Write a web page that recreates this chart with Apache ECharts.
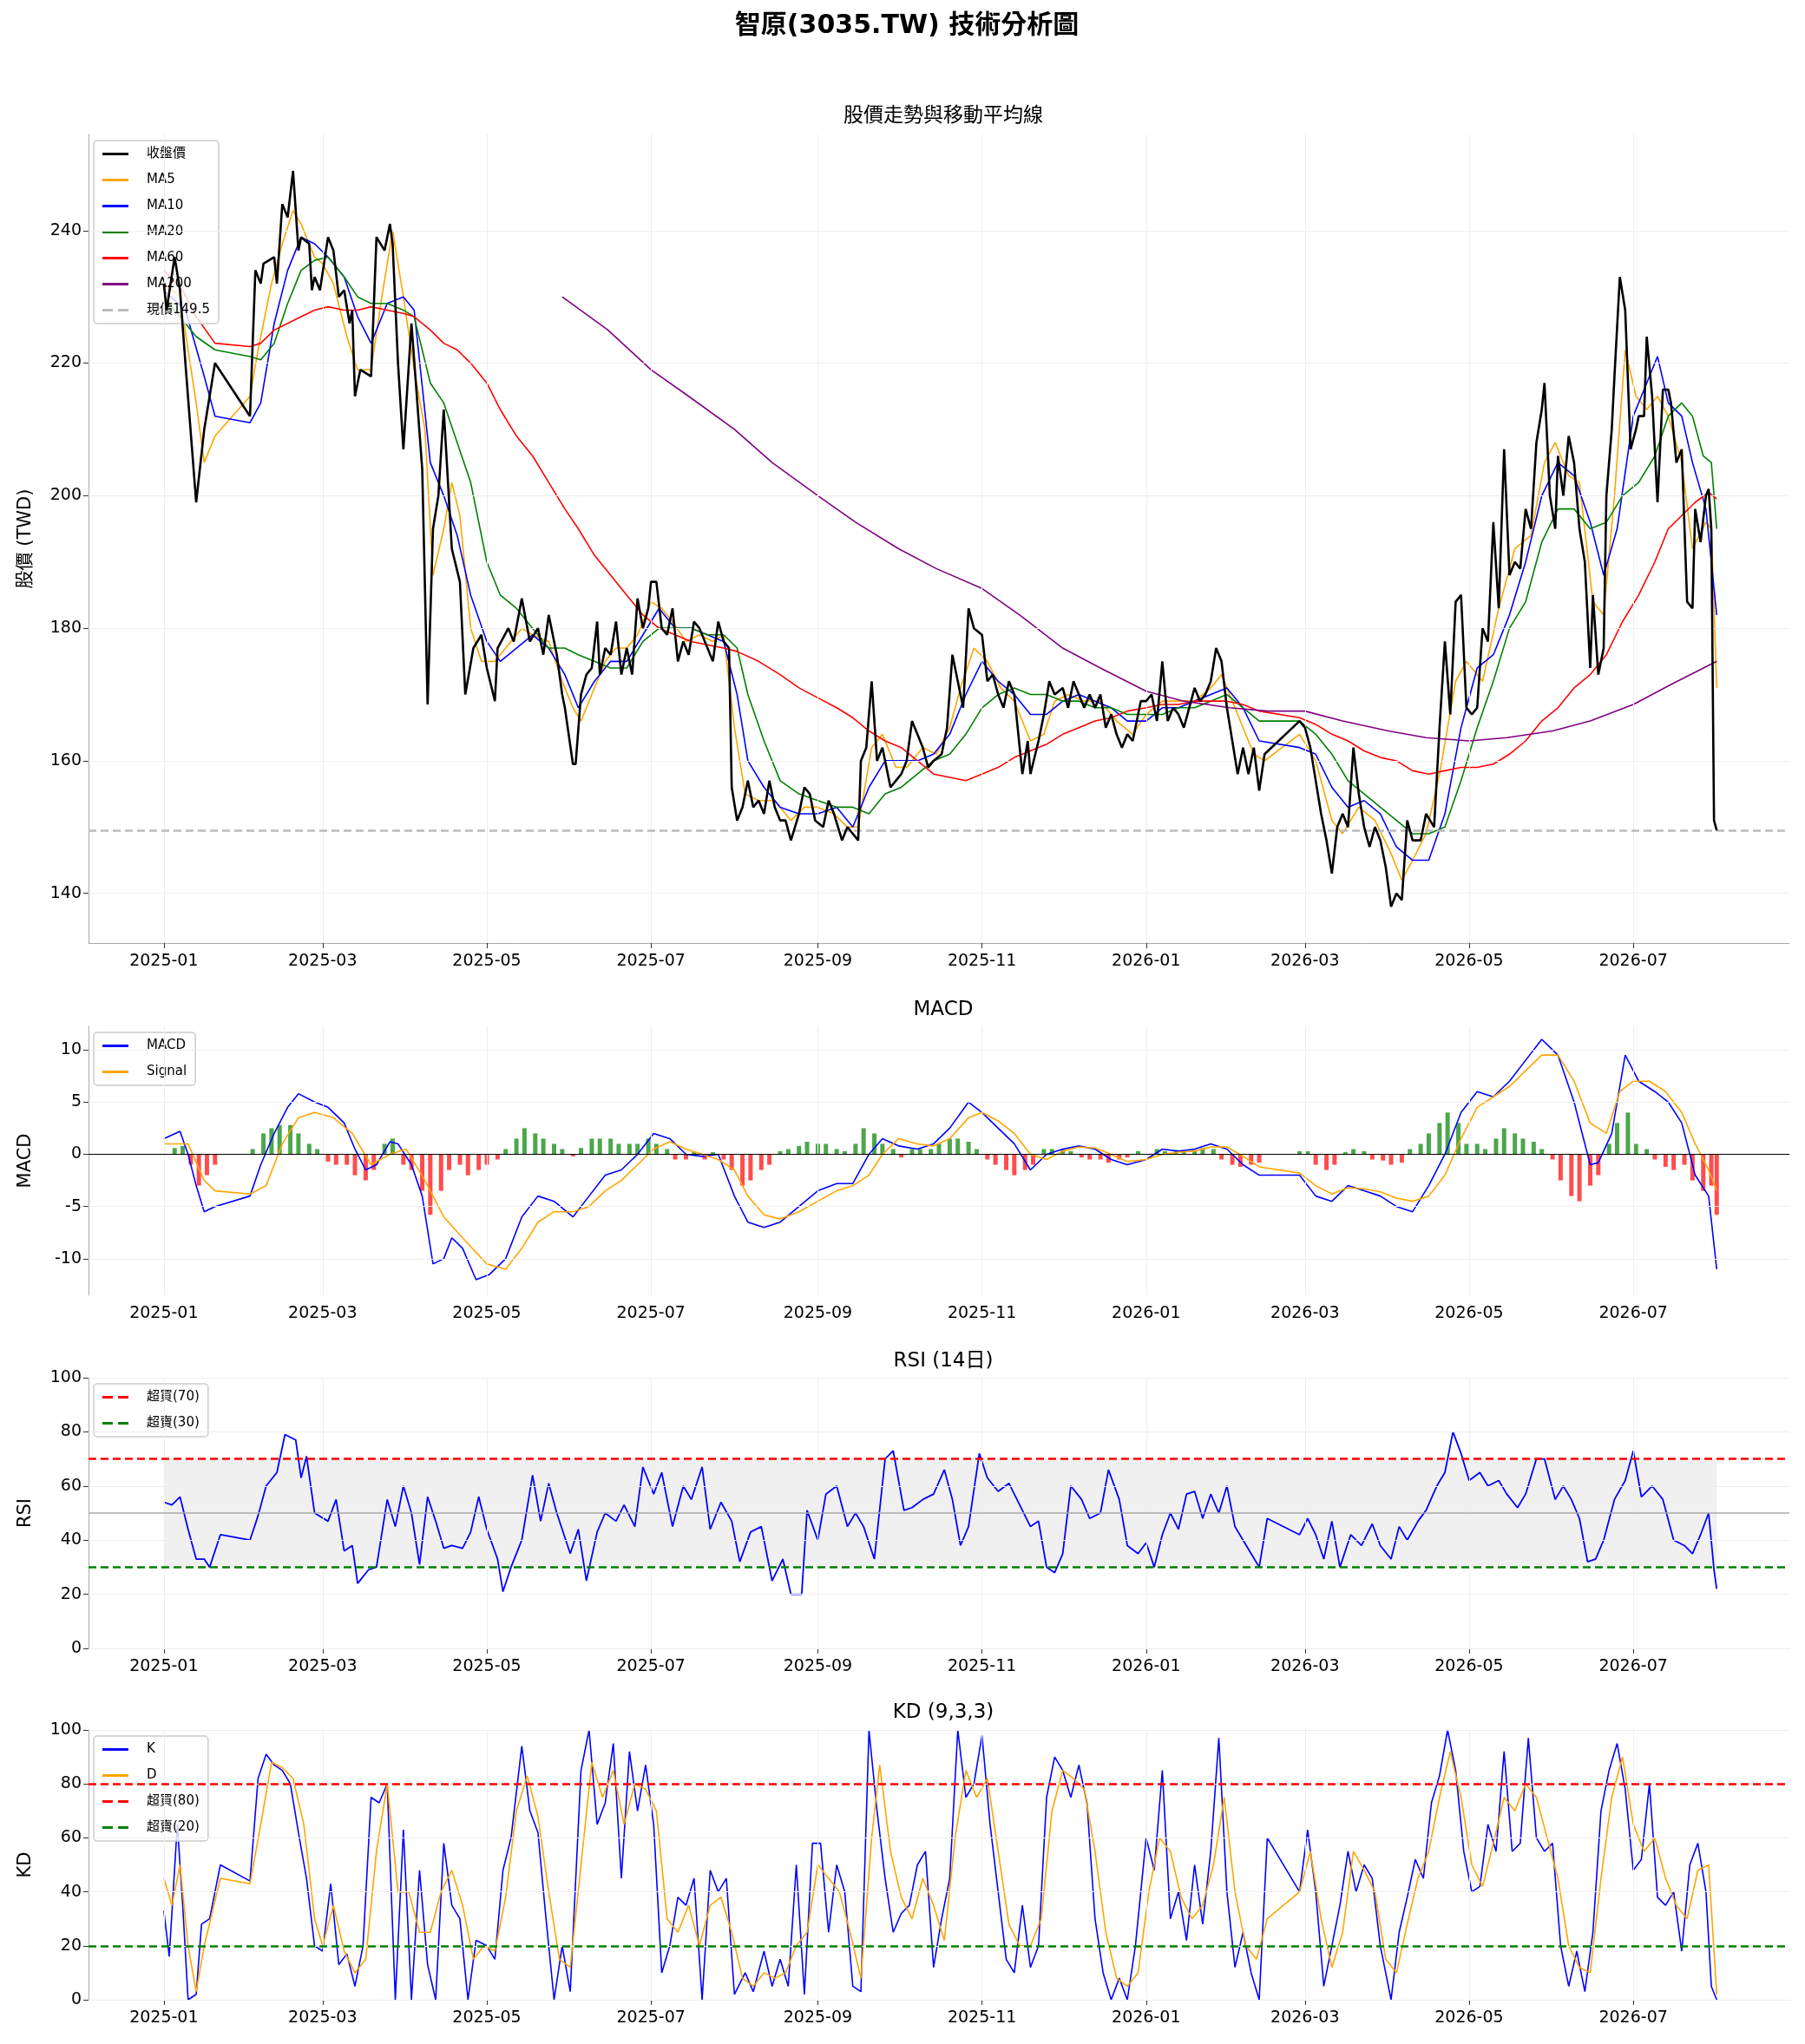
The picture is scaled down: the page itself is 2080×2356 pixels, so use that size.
<!DOCTYPE html>
<html>
<head>
<meta charset="utf-8">
<script src="https://cdn.jsdelivr.net/npm/echarts@6/dist/echarts.min.js"></script>
<style>
html,body{margin:0;padding:0;background:#fff}
#chart{width:2080px;height:2356px}
</style>
</head>
<body>
<div id="chart"></div>
<script>
// tick labels
const monthTicks = ['2025-01-01','2025-03-01','2025-05-01','2025-07-01','2025-09-01','2025-11-01',
  '2026-01-01','2026-03-01','2026-05-01','2026-07-01'];
const priceTicks = [140, 160, 180, 200, 220, 240];
const macdTicks = [-10, -5, 0, 5, 10];
const pctTicks = [0, 20, 40, 60, 80, 100];
const lastPrice = 149.5;

// close price
const closePx = [
['2025-01-01',232],['2025-01-02',228],['2025-01-05',236],['2025-01-07',231],['2025-01-09',220],['2025-01-13',199],
['2025-01-16',210],['2025-01-20',220],['2025-02-02',212],['2025-02-04',234],['2025-02-06',232],['2025-02-07',235],
['2025-02-11',236],['2025-02-12',232],['2025-02-14',244],['2025-02-16',242],['2025-02-18',249],['2025-02-20',237],
['2025-02-21',239],['2025-02-24',238],['2025-02-25',231],['2025-02-26',233],['2025-02-28',231],['2025-03-03',239],
['2025-03-05',237],['2025-03-07',230],['2025-03-09',231],['2025-03-11',226],['2025-03-12',228],['2025-03-13',215],
['2025-03-15',219],['2025-03-19',218],['2025-03-21',239],['2025-03-24',237],['2025-03-26',241],['2025-03-27',238],
['2025-03-29',220],['2025-03-31',207],['2025-04-03',226],['2025-04-07',204],['2025-04-09',168.5],['2025-04-11',195],
['2025-04-13',200],['2025-04-15',213],['2025-04-18',192],['2025-04-21',187],['2025-04-23',170],['2025-04-26',177],
['2025-04-29',179],['2025-05-01',174],['2025-05-04',169],['2025-05-05',177],['2025-05-09',180],['2025-05-11',178],
['2025-05-14',184.5],['2025-05-17',178],['2025-05-20',180],['2025-05-22',176],['2025-05-24',182],['2025-05-27',176],
['2025-05-29',170],['2025-05-30',168],['2025-06-02',159.5],['2025-06-03',159.5],['2025-06-05',170],['2025-06-07',173],
['2025-06-09',174],['2025-06-11',181],['2025-06-12',173],['2025-06-14',177],['2025-06-16',176],['2025-06-18',181],
['2025-06-20',173],['2025-06-22',177],['2025-06-24',173],['2025-06-26',184.5],['2025-06-28',180],['2025-06-30',183],
['2025-07-01',187],['2025-07-03',187],['2025-07-05',180],['2025-07-07',179],['2025-07-09',183],['2025-07-11',175],
['2025-07-13',178],['2025-07-15',176],['2025-07-17',181],['2025-07-19',180],['2025-07-22',177],['2025-07-24',175],
['2025-07-26',181],['2025-07-28',178],['2025-07-30',177],['2025-07-31',156],['2025-08-02',151],['2025-08-04',153],
['2025-08-06',157],['2025-08-08',153],['2025-08-10',154],['2025-08-12',152],['2025-08-14',157],['2025-08-16',153],
['2025-08-18',151],['2025-08-20',151],['2025-08-22',148],['2025-08-25',152],['2025-08-27',156],['2025-08-29',155],
['2025-08-31',151],['2025-09-03',150],['2025-09-05',154],['2025-09-07',152],['2025-09-10',148],['2025-09-12',150],
['2025-09-14',149],['2025-09-16',148],['2025-09-17',160],['2025-09-19',162],['2025-09-21',172],['2025-09-23',160],
['2025-09-25',162],['2025-09-28',156],['2025-09-30',157],['2025-10-02',158],['2025-10-04',160],['2025-10-06',166],
['2025-10-08',164],['2025-10-10',162],['2025-10-12',159],['2025-10-14',160],['2025-10-17',161],['2025-10-19',165],
['2025-10-21',176],['2025-10-23',172],['2025-10-25',168],['2025-10-27',183],['2025-10-29',180],['2025-11-01',179],
['2025-11-03',172],['2025-11-05',173],['2025-11-07',170],['2025-11-09',168],['2025-11-11',172],['2025-11-13',170],
['2025-11-16',158],['2025-11-18',163],['2025-11-19',158],['2025-11-22',163],['2025-11-24',167],['2025-11-26',172],
['2025-11-28',170],['2025-12-01',171],['2025-12-03',168],['2025-12-05',172],['2025-12-07',170],['2025-12-09',168],
['2025-12-11',170],['2025-12-13',168],['2025-12-15',170],['2025-12-17',165],['2025-12-19',167],['2025-12-21',164],
['2025-12-23',162],['2025-12-25',164],['2025-12-27',163],['2025-12-30',169],['2026-01-01',169],['2026-01-03',170],
['2026-01-05',166],['2026-01-07',175],['2026-01-09',166],['2026-01-11',168],['2026-01-13',167],['2026-01-15',165],
['2026-01-17',168],['2026-01-19',171],['2026-01-21',169],['2026-01-23',170],['2026-01-25',172],['2026-01-27',177],
['2026-01-29',175],['2026-01-31',168],['2026-02-02',163],['2026-02-04',158],['2026-02-06',162],['2026-02-08',158],
['2026-02-10',162],['2026-02-12',155.5],['2026-02-14',161],['2026-02-27',166],['2026-03-01',165],['2026-03-03',162],
['2026-03-05',157],['2026-03-07',152],['2026-03-09',148],['2026-03-11',143],['2026-03-13',150],['2026-03-15',152],
['2026-03-17',150],['2026-03-19',162],['2026-03-21',155],['2026-03-23',150],['2026-03-25',147],['2026-03-27',150],
['2026-03-29',148],['2026-03-31',144],['2026-04-02',138],['2026-04-04',140],['2026-04-06',139],['2026-04-08',151],
['2026-04-10',148],['2026-04-13',148],['2026-04-15',152],['2026-04-18',150],['2026-04-20',165],['2026-04-22',178],
['2026-04-24',167],['2026-04-26',184],['2026-04-28',185],['2026-04-30',168],['2026-05-02',167],['2026-05-04',168],
['2026-05-06',180],['2026-05-08',178],['2026-05-10',196],['2026-05-12',183],['2026-05-14',207],['2026-05-16',188],
['2026-05-18',190],['2026-05-20',189],['2026-05-22',198],['2026-05-24',195],['2026-05-26',208],['2026-05-28',213],
['2026-05-29',217],['2026-05-31',200],['2026-06-02',195],['2026-06-03',206],['2026-06-05',200],['2026-06-07',209],
['2026-06-09',205],['2026-06-11',195],['2026-06-13',190],['2026-06-15',174],['2026-06-16',185],['2026-06-18',173],
['2026-06-20',177],['2026-06-21',200],['2026-06-23',210],['2026-06-24',218],['2026-06-26',233],['2026-06-28',228],
['2026-06-30',207],['2026-07-02',210],['2026-07-03',212],['2026-07-05',212],['2026-07-06',224],['2026-07-08',215],
['2026-07-10',199],['2026-07-12',216],['2026-07-14',216],['2026-07-15',214],['2026-07-17',205],['2026-07-19',207],
['2026-07-21',184],['2026-07-23',183],['2026-07-24',198],['2026-07-26',193],['2026-07-28',200],['2026-07-29',201],
['2026-07-30',195],['2026-07-31',151],['2026-08-01',149.5]];

const ma5 = [
['2025-01-01',232],['2025-01-07',230],['2025-01-13',214],['2025-01-16',205],['2025-01-20',209],['2025-02-02',215],
['2025-02-05',222],['2025-02-10',232],['2025-02-14',238],['2025-02-18',243],['2025-02-21',241],['2025-02-26',236],
['2025-03-01',235],['2025-03-05',232],['2025-03-10',224],['2025-03-14',219],['2025-03-19',219],['2025-03-23',230],
['2025-03-27',240],['2025-03-31',230],['2025-04-04',219],['2025-04-08',210],['2025-04-11',188],['2025-04-15',195],
['2025-04-18',202],['2025-04-21',197],['2025-04-25',180],['2025-04-29',175],['2025-05-04',175],['2025-05-08',177],
['2025-05-14',180],['2025-05-18',179],['2025-05-24',178],['2025-05-29',172],['2025-06-02',168],['2025-06-05',166],
['2025-06-09',170],['2025-06-14',175],['2025-06-18',177],['2025-06-22',177],['2025-06-26',179],['2025-07-01',184],
['2025-07-05',183],['2025-07-09',181],['2025-07-14',178],['2025-07-19',179],['2025-07-24',178],['2025-07-28',179],
['2025-08-01',165],['2025-08-05',155],['2025-08-10',154],['2025-08-16',154],['2025-08-22',151],['2025-08-27',153],
['2025-09-01',153],['2025-09-07',152],['2025-09-12',150],['2025-09-16',150],['2025-09-21',162],['2025-09-25',164],
['2025-09-30',159],['2025-10-04',159],['2025-10-10',162],['2025-10-15',161],['2025-10-20',165],['2025-10-24',171],
['2025-10-29',177],['2025-11-03',175],['2025-11-08',171],['2025-11-13',169],['2025-11-19',163],['2025-11-24',164],
['2025-11-28',169],['2025-12-03',170],['2025-12-09',169],['2025-12-15',169],['2025-12-21',166],['2025-12-27',164],
['2026-01-01',167],['2026-01-07',169],['2026-01-13',169],['2026-01-19',169],['2026-01-25',171],['2026-01-29',173],
['2026-02-04',167],['2026-02-10',161],['2026-02-14',160],['2026-02-27',164],['2026-03-05',160],['2026-03-11',151],
['2026-03-15',149],['2026-03-21',153],['2026-03-27',151],['2026-04-02',146],['2026-04-06',142],['2026-04-10',145],
['2026-04-15',149],['2026-04-20',158],['2026-04-26',172],['2026-04-30',175],['2026-05-06',172],['2026-05-12',183],
['2026-05-18',192],['2026-05-24',194],['2026-05-29',205],['2026-06-02',208],['2026-06-07',203],['2026-06-11',202],
['2026-06-16',184],['2026-06-20',182],['2026-06-24',200],['2026-06-28',222],['2026-07-02',215],['2026-07-06',213],
['2026-07-10',215],['2026-07-14',212],['2026-07-19',205],['2026-07-23',192],['2026-07-28',196],['2026-07-30',195],
['2026-08-01',171]];

const ma10 = [
['2025-01-01',231],['2025-01-09',228],['2025-01-16',218],['2025-01-20',212],['2025-02-02',211],['2025-02-06',214],
['2025-02-11',226],['2025-02-16',234],['2025-02-21',239],['2025-02-26',238],['2025-03-03',236],['2025-03-09',233],
['2025-03-14',227],['2025-03-19',223],['2025-03-25',229],['2025-03-31',230],['2025-04-04',228],['2025-04-10',205],
['2025-04-15',200],['2025-04-20',194],['2025-04-25',185],['2025-05-01',178],['2025-05-06',175],['2025-05-12',177],
['2025-05-18',179],['2025-05-24',177],['2025-05-30',173],['2025-06-04',168],['2025-06-10',172],['2025-06-16',175],
['2025-06-22',175],['2025-06-28',179],['2025-07-04',183],['2025-07-10',180],['2025-07-16',180],['2025-07-22',179],
['2025-07-28',178],['2025-08-02',170],['2025-08-06',160],['2025-08-12',156],['2025-08-18',153],['2025-08-25',152],
['2025-09-01',152],['2025-09-08',153],['2025-09-14',150],['2025-09-20',156],['2025-09-26',160],['2025-10-02',160],
['2025-10-08',160],['2025-10-14',161],['2025-10-20',164],['2025-10-26',170],['2025-11-01',175],['2025-11-07',172],
['2025-11-13',170],['2025-11-19',167],['2025-11-25',167],['2025-12-01',169],['2025-12-07',170],['2025-12-13',169],
['2025-12-19',168],['2025-12-25',166],['2026-01-01',166],['2026-01-07',168],['2026-01-13',168],['2026-01-19',169],
['2026-01-25',170],['2026-01-31',171],['2026-02-06',168],['2026-02-12',163],['2026-02-27',162],['2026-03-05',161],
['2026-03-11',156],['2026-03-17',153],['2026-03-23',154],['2026-03-29',152],['2026-04-04',147],['2026-04-10',145],
['2026-04-16',145],['2026-04-22',152],['2026-04-28',165],['2026-05-04',174],['2026-05-10',176],['2026-05-16',182],
['2026-05-22',190],['2026-05-28',200],['2026-06-03',205],['2026-06-09',203],['2026-06-15',196],['2026-06-20',188],
['2026-06-25',195],['2026-07-01',212],['2026-07-06',217],['2026-07-10',221],['2026-07-14',214],['2026-07-19',212],
['2026-07-23',205],['2026-07-28',198],['2026-08-01',182]];

const ma20 = [
['2025-01-01',230],['2025-01-13',224],['2025-01-20',222],['2025-02-02',221],['2025-02-06',220.5],['2025-02-11',223],
['2025-02-16',229],['2025-02-21',234],['2025-02-26',235.5],['2025-03-03',236],['2025-03-09',233],['2025-03-14',230],
['2025-03-19',229],['2025-03-25',229],['2025-03-31',228],['2025-04-04',227],['2025-04-10',217],['2025-04-15',214],
['2025-04-20',208],['2025-04-25',202],['2025-05-01',190],['2025-05-06',185],['2025-05-12',183],['2025-05-18',180],
['2025-05-24',177],['2025-05-30',177],['2025-06-04',176],['2025-06-10',175],['2025-06-16',174],['2025-06-22',174],
['2025-06-28',178],['2025-07-04',180],['2025-07-10',180],['2025-07-16',180],['2025-07-22',179],['2025-07-28',179],
['2025-08-02',177],['2025-08-06',170],['2025-08-12',163],['2025-08-18',157],['2025-08-25',155],['2025-09-01',154],
['2025-09-08',153],['2025-09-14',153],['2025-09-20',152],['2025-09-26',155],['2025-10-02',156],['2025-10-08',158],
['2025-10-14',160],['2025-10-20',161],['2025-10-26',164],['2025-11-01',168],['2025-11-07',170],['2025-11-13',171],
['2025-11-19',170],['2025-11-25',170],['2025-12-01',169],['2025-12-07',169],['2025-12-13',168],['2025-12-19',168],
['2025-12-25',167],['2026-01-01',167],['2026-01-07',167],['2026-01-13',168],['2026-01-19',168],['2026-01-25',169],
['2026-01-31',170],['2026-02-06',168],['2026-02-12',166],['2026-02-27',166],['2026-03-05',164],['2026-03-11',161],
['2026-03-17',157],['2026-03-23',155],['2026-03-29',153],['2026-04-04',151],['2026-04-10',149],['2026-04-16',149],
['2026-04-22',150],['2026-04-28',157],['2026-05-04',165],['2026-05-10',172],['2026-05-16',180],['2026-05-22',184],
['2026-05-28',193],['2026-06-03',198],['2026-06-09',198],['2026-06-15',195],['2026-06-21',196],['2026-06-27',200],
['2026-07-03',202],['2026-07-09',206],['2026-07-14',212],['2026-07-19',214],['2026-07-23',212],['2026-07-27',206],
['2026-07-30',205],['2026-08-01',195]];

const ma60 = [
['2025-01-01',234],['2025-01-08',231],['2025-01-13',227],['2025-01-20',223],['2025-02-02',222.5],['2025-02-06',223],
['2025-02-11',225],['2025-02-16',226],['2025-02-21',227],['2025-02-26',228],['2025-03-03',228.5],['2025-03-09',228],
['2025-03-14',228],['2025-03-19',228.5],['2025-03-25',228],['2025-03-31',227.5],['2025-04-04',227],['2025-04-10',225],
['2025-04-15',223],['2025-04-20',222],['2025-04-25',220],['2025-05-01',217],['2025-05-06',213],['2025-05-12',209],
['2025-05-18',206],['2025-05-24',202],['2025-05-30',198],['2025-06-04',195],['2025-06-10',191],['2025-06-16',188],
['2025-06-22',185],['2025-06-28',182],['2025-07-04',180],['2025-07-10',179],['2025-07-16',178],['2025-07-22',177.5],
['2025-07-28',177],['2025-08-02',176.5],['2025-08-10',175],['2025-08-18',173],['2025-08-25',171],['2025-09-01',169.5],
['2025-09-08',168],['2025-09-14',166.5],['2025-09-20',164.5],['2025-09-26',163],['2025-10-02',162],['2025-10-08',160],
['2025-10-14',158],['2025-10-20',157.5],['2025-10-26',157],['2025-11-01',158],['2025-11-07',159],['2025-11-13',160.5],
['2025-11-19',161.5],['2025-11-25',162.5],['2025-12-01',164],['2025-12-07',165],['2025-12-13',166],['2025-12-19',166.5],
['2025-12-25',167.5],['2026-01-01',168],['2026-01-07',168.5],['2026-01-13',168.5],['2026-01-19',169],['2026-01-25',169],
['2026-01-31',169],['2026-02-06',168.5],['2026-02-12',167.5],['2026-02-27',166.5],['2026-03-05',165.5],['2026-03-11',164],
['2026-03-17',163],['2026-03-23',161.5],['2026-03-29',160.5],['2026-04-04',160],['2026-04-10',158.5],['2026-04-16',158],
['2026-04-22',158.5],['2026-04-28',159],['2026-05-04',159],['2026-05-10',159.5],['2026-05-16',161],['2026-05-22',163],
['2026-05-28',166],['2026-06-03',168],['2026-06-09',171],['2026-06-15',173],['2026-06-21',176],['2026-06-27',181],
['2026-07-03',185],['2026-07-09',190],['2026-07-14',195],['2026-07-19',197],['2026-07-24',199],['2026-07-29',200.5],
['2026-08-01',199.5]];

const ma200 = [
['2025-05-29',230],['2025-06-15',225],['2025-07-01',219],['2025-07-15',215],['2025-08-01',210],['2025-08-15',205],
['2025-09-01',200],['2025-09-15',196],['2025-10-01',192],['2025-10-15',189],['2025-11-01',186],['2025-11-15',182],
['2025-12-01',177],['2025-12-15',174],['2026-01-01',170.5],['2026-01-15',169],['2026-02-01',168],['2026-02-15',167.5],
['2026-03-01',167.5],['2026-03-15',166],['2026-04-01',164.5],['2026-04-15',163.5],['2026-05-01',163],['2026-05-15',163.5],
['2026-06-01',164.5],['2026-06-15',166],['2026-07-01',168.5],['2026-07-15',171.5],['2026-08-01',175]];

const macdLine = [
['2025-01-01',1.5],['2025-01-07',2.2],['2025-01-10',0],['2025-01-13',-3],['2025-01-16',-5.5],['2025-01-20',-5],
['2025-02-02',-4],['2025-02-06',-1],['2025-02-11',2],['2025-02-16',4.5],['2025-02-20',5.8],['2025-02-26',5],
['2025-03-03',4.5],['2025-03-09',3],['2025-03-13',0.5],['2025-03-17',-1.5],['2025-03-21',-1],['2025-03-26',1.2],
['2025-03-29',1],['2025-04-03',-1],['2025-04-07',-4],['2025-04-11',-10.5],['2025-04-15',-10],['2025-04-18',-8],
['2025-04-22',-9],['2025-04-27',-12],['2025-05-02',-11.5],['2025-05-08',-10],['2025-05-14',-6],['2025-05-20',-4],
['2025-05-26',-4.5],['2025-06-02',-6],['2025-06-08',-4],['2025-06-14',-2],['2025-06-20',-1.5],['2025-06-26',0],
['2025-07-02',2],['2025-07-08',1.5],['2025-07-14',0],['2025-07-20',-0.2],['2025-07-26',0],['2025-08-01',-4],
['2025-08-06',-6.5],['2025-08-12',-7],['2025-08-18',-6.5],['2025-08-25',-5],['2025-09-01',-3.5],['2025-09-08',-2.8],
['2025-09-14',-2.8],['2025-09-20',0],['2025-09-25',1.5],['2025-10-01',0.8],['2025-10-08',0.5],['2025-10-14',1],
['2025-10-20',2.5],['2025-10-27',5],['2025-11-01',4],['2025-11-07',2.5],['2025-11-13',1],['2025-11-19',-1.5],
['2025-11-25',0],['2025-12-01',0.5],['2025-12-07',0.8],['2025-12-13',0.5],['2025-12-19',-0.5],['2025-12-25',-1],
['2026-01-01',-0.5],['2026-01-07',0.5],['2026-01-13',0.3],['2026-01-19',0.5],['2026-01-25',1],['2026-01-31',0.5],
['2026-02-06',-1],['2026-02-12',-2],['2026-02-27',-2],['2026-03-05',-4],['2026-03-11',-4.5],['2026-03-17',-3],
['2026-03-23',-3.5],['2026-03-29',-4],['2026-04-04',-5],['2026-04-10',-5.5],['2026-04-16',-3],['2026-04-22',0],
['2026-04-28',4],['2026-05-04',6],['2026-05-10',5.5],['2026-05-16',7],['2026-05-22',9],['2026-05-28',11],
['2026-06-03',9.5],['2026-06-09',5],['2026-06-15',-1],['2026-06-18',-0.8],['2026-06-23',2],['2026-06-28',9.5],
['2026-07-03',7],['2026-07-09',6],['2026-07-14',5],['2026-07-19',3],['2026-07-24',-2],['2026-07-29',-4],
['2026-08-01',-11]];

const signalLine = [
['2025-01-01',1],['2025-01-10',1],['2025-01-16',-2.5],['2025-01-20',-3.5],['2025-02-02',-3.8],['2025-02-08',-3],
['2025-02-14',1],['2025-02-20',3.5],['2025-02-26',4],['2025-03-05',3.5],['2025-03-12',2],['2025-03-19',-1],
['2025-03-26',0],['2025-04-01',0.5],['2025-04-08',-2.5],['2025-04-15',-6],['2025-04-22',-8],['2025-05-01',-10.5],
['2025-05-08',-11],['2025-05-14',-9],['2025-05-20',-6.5],['2025-05-26',-5.5],['2025-06-02',-5.5],['2025-06-08',-5],
['2025-06-14',-3.5],['2025-06-20',-2.5],['2025-06-26',-1],['2025-07-02',0.5],['2025-07-08',1.2],['2025-07-14',0.5],
['2025-07-20',0],['2025-07-26',-0.5],['2025-08-01',-1.5],['2025-08-06',-4],['2025-08-12',-5.8],['2025-08-18',-6.2],
['2025-08-25',-5.5],['2025-09-01',-4.5],['2025-09-08',-3.5],['2025-09-14',-3],['2025-09-20',-2],['2025-09-25',0],
['2025-10-01',1.5],['2025-10-08',1],['2025-10-14',0.8],['2025-10-20',1.5],['2025-10-27',3.5],['2025-11-01',4],
['2025-11-07',3.2],['2025-11-13',2],['2025-11-19',0],['2025-11-25',-0.5],['2025-12-01',0.3],['2025-12-07',0.7],
['2025-12-13',0.6],['2025-12-19',0],['2025-12-25',-0.7],['2026-01-01',-0.5],['2026-01-07',0],['2026-01-13',0.2],
['2026-01-19',0.3],['2026-01-25',0.7],['2026-01-31',0.7],['2026-02-06',-0.2],['2026-02-12',-1.2],['2026-02-27',-1.8],
['2026-03-05',-3],['2026-03-11',-3.8],['2026-03-17',-3.2],['2026-03-23',-3.3],['2026-03-29',-3.6],['2026-04-04',-4.2],
['2026-04-10',-4.5],['2026-04-16',-4],['2026-04-22',-2],['2026-04-28',1.5],['2026-05-04',4.5],['2026-05-10',5.5],
['2026-05-16',6.5],['2026-05-22',8],['2026-05-28',9.5],['2026-06-03',9.5],['2026-06-09',7],['2026-06-15',3],
['2026-06-21',2],['2026-06-26',6],['2026-07-01',7],['2026-07-07',7],['2026-07-13',6],['2026-07-19',4],
['2026-07-24',1],['2026-07-29',-1.5],['2026-08-01',-3.5]];

const macdHist = [
['2025-01-05',0.6],['2025-01-08',0.8],['2025-01-11',-1],['2025-01-14',-3],['2025-01-17',-2],['2025-01-20',-1],
['2025-02-03',0.5],['2025-02-07',2],['2025-02-10',2.5],['2025-02-13',2.8],['2025-02-17',2.8],['2025-02-20',2],
['2025-02-24',1],['2025-02-27',0.5],['2025-03-03',-0.7],['2025-03-06',-1],['2025-03-10',-1],['2025-03-13',-2],
['2025-03-17',-2.5],['2025-03-20',-1.5],['2025-03-24',1],['2025-03-27',1.5],['2025-03-31',-1],['2025-04-03',-1.5],
['2025-04-07',-3.5],['2025-04-10',-5.8],['2025-04-14',-3.5],['2025-04-17',-1.5],['2025-04-21',-1],['2025-04-24',-2],
['2025-04-28',-1.5],['2025-05-01',-1],['2025-05-05',-0.5],['2025-05-08',0.5],['2025-05-12',1.5],['2025-05-15',2.5],
['2025-05-19',2],['2025-05-22',1.5],['2025-05-26',1],['2025-05-29',0.5],['2025-06-02',-0.2],['2025-06-05',0.6],
['2025-06-09',1.5],['2025-06-12',1.5],['2025-06-16',1.5],['2025-06-19',1],['2025-06-23',1],['2025-06-26',1],
['2025-06-30',1.5],['2025-07-03',1],['2025-07-07',0.5],['2025-07-10',-0.5],['2025-07-14',-0.5],['2025-07-17',0.2],
['2025-07-21',-0.5],['2025-07-24',0.2],['2025-07-28',-0.5],['2025-07-31',-1.5],['2025-08-04',-3],['2025-08-07',-2.5],
['2025-08-11',-1.5],['2025-08-14',-1],['2025-08-18',0.3],['2025-08-21',0.5],['2025-08-25',0.8],['2025-08-28',1.2],
['2025-09-01',1],['2025-09-04',1],['2025-09-08',0.5],['2025-09-11',0.3],['2025-09-15',1],['2025-09-18',2.5],
['2025-09-22',2],['2025-09-25',1],['2025-09-29',0.5],['2025-10-02',-0.3],['2025-10-06',0.5],['2025-10-09',0.5],
['2025-10-13',0.5],['2025-10-16',1],['2025-10-20',1.5],['2025-10-23',1.5],['2025-10-27',1.2],['2025-10-30',0.5],
['2025-11-03',-0.5],['2025-11-06',-1],['2025-11-10',-1.5],['2025-11-13',-2],['2025-11-17',-1.5],['2025-11-20',-1],
['2025-11-24',0.5],['2025-11-27',0.5],['2025-12-01',0.5],['2025-12-04',0.3],['2025-12-08',-0.3],['2025-12-11',-0.5],
['2025-12-15',-0.5],['2025-12-18',-0.8],['2025-12-22',-0.5],['2025-12-25',-0.3],['2025-12-29',0.3],['2026-01-05',0.5],
['2026-01-08',0.3],['2026-01-12',0.4],['2026-01-15',0.2],['2026-01-19',0.4],['2026-01-22',0.6],['2026-01-26',0.5],
['2026-01-29',-0.5],['2026-02-02',-1],['2026-02-05',-1.2],['2026-02-09',-1],['2026-02-12',-0.8],['2026-02-27',0.3],
['2026-03-02',0.3],['2026-03-05',-1],['2026-03-09',-1.5],['2026-03-12',-1],['2026-03-16',0.2],['2026-03-19',0.5],
['2026-03-23',0.3],['2026-03-26',-0.5],['2026-03-30',-0.6],['2026-04-02',-1],['2026-04-06',-0.8],['2026-04-09',0.5],
['2026-04-13',1],['2026-04-16',2],['2026-04-20',3],['2026-04-23',4],['2026-04-27',3],['2026-04-30',1],
['2026-05-04',1],['2026-05-07',0.5],['2026-05-11',1.5],['2026-05-14',2.5],['2026-05-18',2],['2026-05-21',1.5],
['2026-05-25',1.2],['2026-05-28',0.5],['2026-06-01',-0.5],['2026-06-04',-2.5],['2026-06-08',-4],['2026-06-11',-4.5],
['2026-06-15',-3],['2026-06-18',-2],['2026-06-22',1],['2026-06-25',3],['2026-06-29',4],['2026-07-02',1],
['2026-07-06',0.5],['2026-07-09',-0.5],['2026-07-13',-1.2],['2026-07-16',-1.5],['2026-07-20',-1],['2026-07-23',-2.5],
['2026-07-27',-3.5],['2026-07-30',-3],['2026-08-01',-5.8]];

const rsi14 = [
['2025-01-01',54],['2025-01-04',53],['2025-01-07',56],['2025-01-10',44],['2025-01-13',33],['2025-01-16',33],
['2025-01-18',30],['2025-01-22',42],['2025-02-02',40],['2025-02-05',49],['2025-02-08',60],['2025-02-12',65],
['2025-02-15',79],['2025-02-19',77],['2025-02-21',63],['2025-02-23',71],['2025-02-26',50],['2025-03-03',47],
['2025-03-06',55],['2025-03-09',36],['2025-03-12',38],['2025-03-14',24],['2025-03-18',29],['2025-03-21',30],
['2025-03-25',55],['2025-03-28',45],['2025-03-31',60],['2025-04-03',50],['2025-04-06',31],['2025-04-09',56],
['2025-04-12',47],['2025-04-15',37],['2025-04-18',38],['2025-04-22',37],['2025-04-25',43],['2025-04-28',56],
['2025-05-01',44],['2025-05-05',33],['2025-05-07',21],['2025-05-10',30],['2025-05-14',40],['2025-05-18',64],
['2025-05-21',47],['2025-05-24',61],['2025-05-27',50],['2025-06-01',35],['2025-06-04',44],['2025-06-07',25],
['2025-06-11',43],['2025-06-14',50],['2025-06-18',47],['2025-06-21',53],['2025-06-25',45],['2025-06-28',67],
['2025-07-02',57],['2025-07-05',65],['2025-07-09',45],['2025-07-13',60],['2025-07-16',55],['2025-07-20',67],
['2025-07-23',44],['2025-07-27',54],['2025-07-31',47],['2025-08-03',32],['2025-08-07',43],['2025-08-11',45],
['2025-08-15',25],['2025-08-19',33],['2025-08-22',20],['2025-08-26',20],['2025-08-28',51],['2025-09-01',40],
['2025-09-04',57],['2025-09-08',60],['2025-09-12',45],['2025-09-15',50],['2025-09-18',45],['2025-09-22',33],
['2025-09-26',70],['2025-09-29',73],['2025-10-03',51],['2025-10-06',52],['2025-10-10',55],['2025-10-14',57],
['2025-10-18',66],['2025-10-21',55],['2025-10-24',38],['2025-10-27',45],['2025-10-31',72],['2025-11-03',63],
['2025-11-07',58],['2025-11-11',61],['2025-11-15',53],['2025-11-19',45],['2025-11-22',47],['2025-11-25',30],
['2025-11-28',28],['2025-12-01',35],['2025-12-04',60],['2025-12-08',55],['2025-12-11',48],['2025-12-15',50],
['2025-12-18',66],['2025-12-22',55],['2025-12-25',38],['2025-12-29',35],['2026-01-01',39],['2026-01-04',30],
['2026-01-07',42],['2026-01-10',50],['2026-01-13',44],['2026-01-16',57],['2026-01-19',58],['2026-01-22',48],
['2026-01-25',57],['2026-01-28',50],['2026-01-31',60],['2026-02-03',45],['2026-02-06',40],['2026-02-09',35],
['2026-02-12',30],['2026-02-15',48],['2026-02-27',42],['2026-03-02',48],['2026-03-05',42],['2026-03-08',33],
['2026-03-11',47],['2026-03-14',30],['2026-03-18',42],['2026-03-22',38],['2026-03-26',46],['2026-03-29',38],
['2026-04-02',33],['2026-04-05',45],['2026-04-08',40],['2026-04-12',47],['2026-04-15',51],['2026-04-19',60],
['2026-04-22',65],['2026-04-25',80],['2026-04-28',72],['2026-05-01',62],['2026-05-05',65],['2026-05-08',60],
['2026-05-12',62],['2026-05-15',57],['2026-05-19',52],['2026-05-22',57],['2026-05-26',70],['2026-05-29',70],
['2026-06-02',55],['2026-06-05',60],['2026-06-08',55],['2026-06-11',48],['2026-06-14',32],['2026-06-17',33],
['2026-06-20',40],['2026-06-24',55],['2026-06-28',62],['2026-07-01',73],['2026-07-04',56],['2026-07-08',60],
['2026-07-12',55],['2026-07-16',40],['2026-07-20',38],['2026-07-23',35],['2026-07-26',42],['2026-07-29',50],
['2026-07-31',29],['2026-08-01',22]];

const kLine = [
['2025-01-01',33],['2025-01-03',16],['2025-01-06',65],['2025-01-08',35],['2025-01-10',0],['2025-01-13',2],
['2025-01-15',28],['2025-01-18',30],['2025-01-22',50],['2025-02-02',44],['2025-02-05',82],['2025-02-08',91],
['2025-02-11',87],['2025-02-14',85],['2025-02-17',80],['2025-02-20',62],['2025-02-23',45],['2025-02-26',20],
['2025-03-01',18],['2025-03-04',43],['2025-03-07',13],['2025-03-10',17],['2025-03-13',5],['2025-03-16',20],
['2025-03-19',75],['2025-03-22',73],['2025-03-25',80],['2025-03-28',0],['2025-03-31',63],['2025-04-03',0],
['2025-04-06',48],['2025-04-09',13],['2025-04-12',0],['2025-04-15',58],['2025-04-18',35],['2025-04-21',30],
['2025-04-24',0],['2025-04-27',22],['2025-05-01',20],['2025-05-04',15],['2025-05-07',48],['2025-05-10',60],
['2025-05-14',94],['2025-05-17',70],['2025-05-20',62],['2025-05-23',30],['2025-05-26',0],['2025-05-29',20],
['2025-06-01',3],['2025-06-05',85],['2025-06-08',100],['2025-06-11',65],['2025-06-14',73],['2025-06-17',95],
['2025-06-20',45],['2025-06-23',92],['2025-06-26',70],['2025-06-29',87],['2025-07-02',65],['2025-07-05',10],
['2025-07-08',20],['2025-07-11',38],['2025-07-14',35],['2025-07-17',45],['2025-07-20',0],['2025-07-23',48],
['2025-07-26',40],['2025-07-29',45],['2025-08-01',2],['2025-08-05',10],['2025-08-08',3],['2025-08-12',18],
['2025-08-15',5],['2025-08-18',15],['2025-08-21',5],['2025-08-24',50],['2025-08-27',2],['2025-08-30',58],
['2025-09-02',58],['2025-09-05',25],['2025-09-08',50],['2025-09-11',40],['2025-09-14',5],['2025-09-17',3],
['2025-09-20',100],['2025-09-23',70],['2025-09-26',45],['2025-09-29',25],['2025-10-02',32],['2025-10-05',35],
['2025-10-08',50],['2025-10-11',55],['2025-10-14',12],['2025-10-17',30],['2025-10-20',45],['2025-10-23',100],
['2025-10-26',75],['2025-10-29',80],['2025-11-01',98],['2025-11-04',65],['2025-11-07',40],['2025-11-10',15],
['2025-11-13',10],['2025-11-16',35],['2025-11-19',12],['2025-11-22',20],['2025-11-25',75],['2025-11-28',90],
['2025-12-01',85],['2025-12-04',75],['2025-12-07',87],['2025-12-10',73],['2025-12-13',30],['2025-12-16',10],
['2025-12-19',0],['2025-12-22',8],['2025-12-25',0],['2025-12-28',20],['2026-01-01',60],['2026-01-04',48],
['2026-01-07',85],['2026-01-10',30],['2026-01-13',40],['2026-01-16',22],['2026-01-19',50],['2026-01-22',28],
['2026-01-25',55],['2026-01-28',97],['2026-01-31',40],['2026-02-03',12],['2026-02-06',25],['2026-02-09',10],
['2026-02-12',0],['2026-02-15',60],['2026-02-27',40],['2026-03-02',63],['2026-03-05',40],['2026-03-08',5],
['2026-03-11',20],['2026-03-14',35],['2026-03-17',55],['2026-03-20',40],['2026-03-23',50],['2026-03-26',45],
['2026-03-29',20],['2026-04-02',0],['2026-04-05',25],['2026-04-08',38],['2026-04-11',52],['2026-04-14',45],
['2026-04-17',73],['2026-04-20',83],['2026-04-23',100],['2026-04-26',85],['2026-04-29',55],['2026-05-02',40],
['2026-05-05',42],['2026-05-08',65],['2026-05-11',55],['2026-05-14',92],['2026-05-17',55],['2026-05-20',58],
['2026-05-23',97],['2026-05-26',60],['2026-05-29',55],['2026-06-01',58],['2026-06-04',20],['2026-06-07',5],
['2026-06-10',18],['2026-06-13',3],['2026-06-16',25],['2026-06-19',70],['2026-06-22',85],['2026-06-25',95],
['2026-06-28',78],['2026-07-01',48],['2026-07-04',52],['2026-07-07',80],['2026-07-10',38],['2026-07-13',35],
['2026-07-16',40],['2026-07-19',18],['2026-07-22',50],['2026-07-25',58],['2026-07-28',40],['2026-07-30',5],
['2026-08-01',0]];

const dLine = [
['2025-01-01',45],['2025-01-04',35],['2025-01-07',50],['2025-01-10',20],['2025-01-13',3],['2025-01-16',20],
['2025-01-22',45],['2025-02-02',43],['2025-02-06',65],['2025-02-10',88],['2025-02-14',86],['2025-02-18',82],
['2025-02-22',65],['2025-02-26',30],['2025-03-01',20],['2025-03-05',35],['2025-03-09',18],['2025-03-13',10],
['2025-03-17',15],['2025-03-21',55],['2025-03-25',80],['2025-03-29',40],['2025-04-02',40],['2025-04-06',25],
['2025-04-10',25],['2025-04-14',40],['2025-04-18',48],['2025-04-22',35],['2025-04-26',15],['2025-04-30',20],
['2025-05-04',18],['2025-05-08',38],['2025-05-12',70],['2025-05-16',83],['2025-05-20',68],['2025-05-24',40],
['2025-05-28',15],['2025-06-01',12],['2025-06-05',50],['2025-06-09',88],['2025-06-13',75],['2025-06-17',85],
['2025-06-21',65],['2025-06-25',80],['2025-06-29',78],['2025-07-03',70],['2025-07-07',30],['2025-07-11',25],
['2025-07-15',35],['2025-07-19',20],['2025-07-23',35],['2025-07-27',38],['2025-07-31',25],['2025-08-04',8],
['2025-08-08',5],['2025-08-12',10],['2025-08-16',8],['2025-08-20',10],['2025-08-24',20],['2025-08-28',25],
['2025-09-01',50],['2025-09-05',45],['2025-09-09',40],['2025-09-13',25],['2025-09-17',8],['2025-09-21',60],
['2025-09-24',87],['2025-09-28',55],['2025-10-02',38],['2025-10-06',30],['2025-10-10',45],['2025-10-14',35],
['2025-10-18',22],['2025-10-22',60],['2025-10-26',85],['2025-10-30',75],['2025-11-03',82],['2025-11-07',55],
['2025-11-11',28],['2025-11-15',20],['2025-11-19',20],['2025-11-23',30],['2025-11-27',70],['2025-12-01',85],
['2025-12-05',82],['2025-12-09',78],['2025-12-13',55],['2025-12-17',25],['2025-12-21',8],['2025-12-25',5],
['2025-12-29',10],['2026-01-02',40],['2026-01-06',60],['2026-01-10',55],['2026-01-14',38],['2026-01-18',30],
['2026-01-22',35],['2026-01-26',50],['2026-01-30',75],['2026-02-03',40],['2026-02-07',20],['2026-02-11',15],
['2026-02-15',30],['2026-02-27',40],['2026-03-03',55],['2026-03-07',30],['2026-03-11',12],['2026-03-15',25],
['2026-03-19',55],['2026-03-23',48],['2026-03-27',40],['2026-03-31',15],['2026-04-04',10],['2026-04-08',28],
['2026-04-12',45],['2026-04-16',55],['2026-04-20',75],['2026-04-24',92],['2026-04-28',75],['2026-05-02',50],
['2026-05-06',42],['2026-05-10',58],['2026-05-14',75],['2026-05-18',70],['2026-05-22',80],['2026-05-26',75],
['2026-05-30',60],['2026-06-03',45],['2026-06-07',20],['2026-06-11',12],['2026-06-15',10],['2026-06-19',45],
['2026-06-23',75],['2026-06-27',90],['2026-07-01',65],['2026-07-05',55],['2026-07-09',60],['2026-07-13',45],
['2026-07-17',35],['2026-07-21',30],['2026-07-25',48],['2026-07-29',50],['2026-08-01',2]];

const chart = echarts.init(document.getElementById('chart'));
const font = 'DejaVu Sans, "Noto Sans CJK TC", sans-serif';
const ms = d => Date.UTC(+d.slice(0, 4), +d.slice(5, 7) - 1, +d.slice(8, 10));
const toMs = arr => arr.map(([d, v]) => [ms(d), v]);
const xMin = ms('2024-12-04'), xMax = ms('2026-08-28');
const tickMs = monthTicks.map(ms);
const fmtMonth = v => { const d = new Date(v); return d.getUTCFullYear() + '-' + String(d.getUTCMonth() + 1).padStart(2, '0'); };

const grids = [
  {left: 102, right: 18, top: 155, height: 932},
  {left: 102, right: 18, top: 1183, height: 310},
  {left: 102, right: 18, top: 1588, height: 312},
  {left: 102, right: 18, top: 1994, height: 311}
];

const xAxes = grids.map((g, i) => ({
  type: 'value', gridIndex: i, min: xMin, max: xMax,
  axisLine: {lineStyle: {color: '#aaa'}},
  axisTick: {customValues: tickMs, length: 6, lineStyle: {color: '#333'}},
  axisLabel: {customValues: tickMs, formatter: fmtMonth,
    fontSize: 19, color: '#000', fontFamily: font, margin: 12},
  splitLine: {show: false}
}));

function yAx(i, min, max, ticks, name, gap) {
  return {
    type: 'value', gridIndex: i, min, max, name, nameLocation: 'middle', nameGap: gap,
    nameTextStyle: {fontSize: 21, color: '#000', fontFamily: font},
    axisLine: {show: true, lineStyle: {color: '#aaa'}},
    axisTick: {show: true, customValues: ticks, length: 6, lineStyle: {color: '#333'}},
    axisLabel: {customValues: ticks, fontSize: 19, color: '#000', fontFamily: font},
    splitLine: {show: false}
  };
}

const yAxes = [
  yAx(0, 132.5, 254.5, priceTicks, '股價 (TWD)', 62),
  yAx(1, -13.5, 12.25, macdTicks, 'MACD', 62),
  yAx(2, 0, 100, pctTicks, 'RSI', 62),
  yAx(3, 0, 100, pctTicks, 'KD', 62)
];

function line(name, data, color, w, xi, extra) {
  return Object.assign({name, type: 'line', data: toMs(data), xAxisIndex: xi, yAxisIndex: xi, showSymbol: false,
    symbol: 'none', lineStyle: {color, width: w}, itemStyle: {color}, z: 3}, extra || {});
}

function hline(name, value, color, xi) {
  return {name, type: 'line', data: [], xAxisIndex: xi, yAxisIndex: xi, symbol: 'none',
    lineStyle: {color, width: 2.5, type: [9, 5]}, itemStyle: {color},
    markLine: {symbol: 'none', silent: true, label: {show: false},
      lineStyle: {color, width: 2.5, type: [9, 5]}, data: [{yAxis: value}]}};
}

// faint matplotlib-like grid lines
function gridLines(xi, yTicks) {
  return {type: 'line', data: [], xAxisIndex: xi, yAxisIndex: xi, silent: true, z: 0,
    markLine: {symbol: 'none', silent: true, label: {show: false},
      lineStyle: {color: '#eee', width: 1, type: 'solid'},
      data: yTicks.map(v => ({yAxis: v})).concat(tickMs.map(v => ({xAxis: v})))}};
}

const solidIcon = 'path://M0,0H30V3H0Z';
const dashIcon = 'path://M0,0H12V3H0ZM18,0H30V3H18Z';
const legendItems = (solid, dashed) =>
  solid.map(name => ({name, icon: solidIcon})).concat(dashed.map(name => ({name, icon: dashIcon})));

const legendBase = {orient: 'vertical', backgroundColor: 'rgba(255,255,255,0.8)', borderColor: '#ccc',
  borderWidth: 1.5, borderRadius: 4, padding: [8, 10], itemWidth: 34, itemHeight: 3, itemGap: 15,
  textStyle: {fontSize: 15, fontFamily: font, color: '#000', padding: [0, 0, 0, 14]}};

const series = [
  gridLines(0, priceTicks), gridLines(1, macdTicks), gridLines(2, pctTicks), gridLines(3, pctTicks),
  line('收盤價', closePx, '#000', 2.6, 0, {z: 5}),
  line('MA5', ma5, 'orange', 1.6, 0),
  line('MA10', ma10, 'blue', 1.6, 0),
  line('MA20', ma20, 'green', 1.6, 0),
  line('MA60', ma60, 'red', 1.6, 0),
  line('MA200', ma200, 'purple', 1.6, 0),
  hline('現價149.5', lastPrice, '#bbb', 0),

  {name: 'hist', type: 'bar', xAxisIndex: 1, yAxisIndex: 1, data: toMs(macdHist), barWidth: 5,
    itemStyle: {color: p => p.value[1] >= 0 ? 'rgba(0,128,0,0.7)' : 'rgba(255,0,0,0.7)'},
    markLine: {symbol: 'none', silent: true, label: {show: false}, lineStyle: {color: '#000', width: 1.2, type: 'solid'},
      data: [{yAxis: 0}]}},
  line('MACD', macdLine, 'blue', 1.6, 1),
  line('Signal', signalLine, 'orange', 1.6, 1),

  line('RSI', rsi14, 'blue', 1.8, 2, {
    markArea: {silent: true, itemStyle: {color: 'rgba(128,128,128,0.12)'},
      data: [[{xAxis: ms('2025-01-01'), yAxis: 30}, {xAxis: ms('2026-08-01'), yAxis: 70}]]}}),
  hline('超買(70)', 70, 'red', 2),
  hline('超賣(30)', 30, 'green', 2),
  {name: 'mid', type: 'line', data: [], xAxisIndex: 2, yAxisIndex: 2,
    markLine: {symbol: 'none', silent: true, label: {show: false}, lineStyle: {color: '#aaa', width: 1.5, type: 'solid'},
      data: [{yAxis: 50}]}},

  line('K', kLine, 'blue', 1.6, 3),
  line('D', dLine, 'orange', 1.6, 3),
  hline('超買(80)', 80, 'red', 3),
  hline('超賣(20)', 20, 'green', 3)
];

const subTitle = (text, top) => ({text, left: 1082, top, textAlign: 'center',
  textStyle: {fontSize: 23, fontWeight: 'normal', fontFamily: font, color: '#000'}});

chart.setOption({
  animation: false,
  backgroundColor: '#fff',
  title: [
    {text: '智原(3035.TW) 技術分析圖', left: 1040, top: 10, textAlign: 'center',
      textStyle: {fontSize: 30, fontWeight: 'bold', fontFamily: font, color: '#000'}},
    subTitle('股價走勢與移動平均線', 118),
    subTitle('MACD', 1148),
    subTitle('RSI (14日)', 1553),
    subTitle('KD (9,3,3)', 1958)
  ],
  legend: [
    Object.assign({}, legendBase, {left: 108, top: 162,
      data: legendItems(['收盤價', 'MA5', 'MA10', 'MA20', 'MA60', 'MA200'], ['現價149.5'])}),
    Object.assign({}, legendBase, {left: 108, top: 1190, data: legendItems(['MACD', 'Signal'], [])}),
    Object.assign({}, legendBase, {left: 108, top: 1595, data: legendItems([], ['超買(70)', '超賣(30)'])}),
    Object.assign({}, legendBase, {left: 108, top: 2001, data: legendItems(['K', 'D'], ['超買(80)', '超賣(20)'])})
  ],
  grid: grids,
  xAxis: xAxes,
  yAxis: yAxes,
  series
});
</script>
</body>
</html>
